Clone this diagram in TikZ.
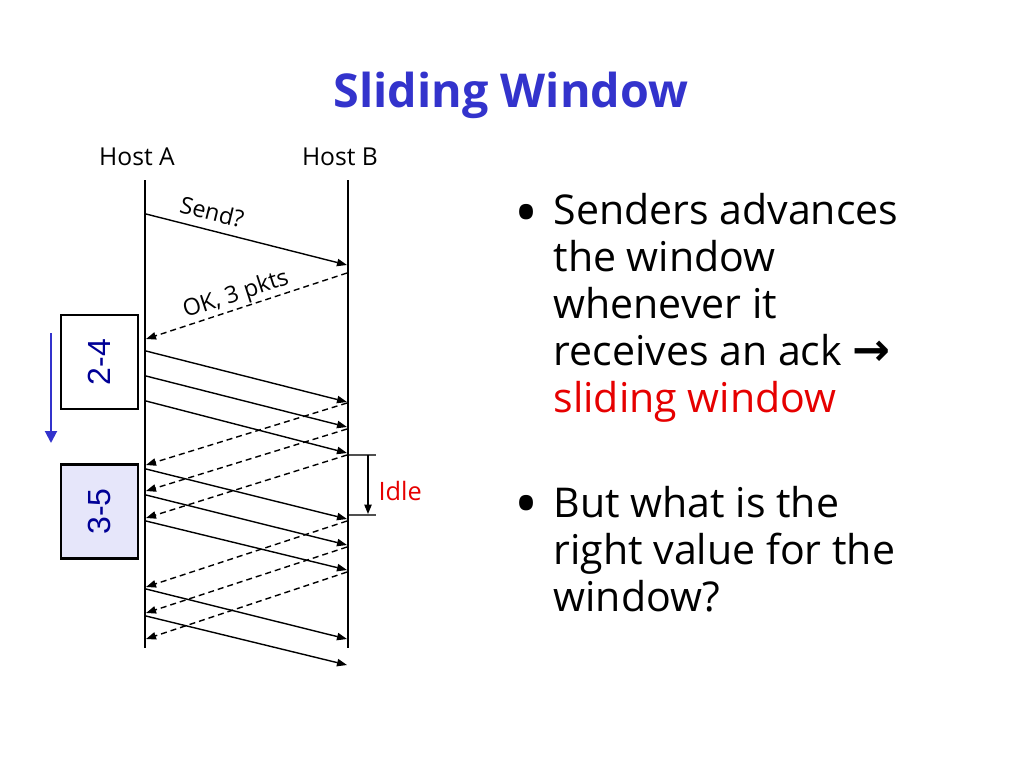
\documentclass[tikz,border=0pt]{standalone}
\usepackage{fontspec}
\setmainfont{Open Sans}
\newfontfamily\arrowfont{DejaVu Sans}
\newfontfamily\boxfont{Liberation Sans}
\usetikzlibrary{arrows.meta}

\definecolor{titleblue}{RGB}{51,51,204}
\definecolor{boxtext}{RGB}{0,0,150}
\definecolor{boxfill}{RGB}{230,230,250}
\definecolor{slidered}{RGB}{230,0,0}
\definecolor{idlegray}{RGB}{80,80,80}

\tikzset{every picture/.style={line width=0.75pt}}
\tikzset{
  lifeline/.style={line width=2.2pt},
  msg/.style={line width=1.05pt,-{Triangle[length=7.5pt,width=5.5pt]}},
  ack/.style={msg,dash pattern=on 4.5pt off 3pt},
  winbox/.style={draw,line width=2pt,minimum width=57.75pt,minimum height=70.5pt,inner sep=0pt},
  bulletline/.style={anchor=base west,inner sep=0pt,font=\fontsize{30.8}{35}\selectfont},
  bulletdot/.style={inner sep=0pt,font=\fontsize{48}{48}\selectfont}
}

\begin{document}
\begin{tikzpicture}[x=0.75pt,y=0.75pt,yscale=-1,xscale=1]
\useasboundingbox (0,0) rectangle (1024,768);

% Text Node
\node [font=\fontsize{35}{40}\selectfont\bfseries,color=titleblue,anchor=base] (title) at (511,107) {Sliding Window};
% Text Node
\node [font=\fontsize{18.5}{20}\selectfont] (hostA) at (137,157) {Host A};
% Text Node
\node [font=\fontsize{18.5}{20}\selectfont] (hostB) at (340,157) {Host B};

%Straight Lines [lifelines]
\coordinate (topA) at (145,180); \coordinate (botA) at (145,648);
\coordinate (topB) at (348,180); \coordinate (botB) at (348,648);
\draw [lifeline] (topA) -- (botA);
\draw [lifeline] (topB) -- (botB);

%Straight Lines [Send?]
\coordinate (s0A) at (146,214); \coordinate (s0B) at (347,265);
\draw [msg] (s0A) -- (s0B);
%Straight Lines [OK]
\coordinate (d0B) at (347,273); \coordinate (d0A) at (146,339);
\draw [ack] (d0B) -- (d0A);

%Straight Lines [first window]
\coordinate (s1A) at (146,351); \coordinate (s1B) at (347,402);
\draw [msg] (s1A) -- (s1B);
\coordinate (s2A) at (146,376); \coordinate (s2B) at (347,427);
\draw [msg] (s2A) -- (s2B);
\coordinate (s3A) at (146,401); \coordinate (s3B) at (347,453);
\draw [msg] (s3A) -- (s3B);
\coordinate (d1B) at (347,403); \coordinate (d1A) at (146,465);
\draw [ack] (d1B) -- (d1A);
\coordinate (d2B) at (347,429); \coordinate (d2A) at (146,491);
\draw [ack] (d2B) -- (d2A);
\coordinate (d3B) at (347,455); \coordinate (d3A) at (146,518);
\draw [ack] (d3B) -- (d3A);

%Straight Lines [second window]
\coordinate (s4A) at (146,469); \coordinate (s4B) at (347,519);
\draw [msg] (s4A) -- (s4B);
\coordinate (s5A) at (146,495); \coordinate (s5B) at (347,545);
\draw [msg] (s5A) -- (s5B);
\coordinate (s6A) at (146,521); \coordinate (s6B) at (347,570);
\draw [msg] (s6A) -- (s6B);
\coordinate (d4B) at (347,521); \coordinate (d4A) at (146,587);
\draw [ack] (d4B) -- (d4A);
\coordinate (d5B) at (347,547); \coordinate (d5A) at (146,613);
\draw [ack] (d5B) -- (d5A);
\coordinate (d6B) at (347,572); \coordinate (d6A) at (146,639);
\draw [ack] (d6B) -- (d6A);
\coordinate (s7A) at (146,589); \coordinate (s7B) at (347,639);
\draw [msg] (s7A) -- (s7B);
\coordinate (s8A) at (146,616); \coordinate (s8B) at (347,665);
\draw [msg] (s8A) -- (s8B);

% Text Node
\node [font=\fontsize{17.5}{20}\selectfont,rotate=-14,inner sep=0pt] (sendlbl) at (212,212) {Send?};
% Text Node
\node [font=\fontsize{17.5}{20}\selectfont,rotate=18,inner sep=0pt] (oklbl) at (236,295) {OK, 3 pkts};

%Idle bracket
\coordinate (idleT) at (376,455); \coordinate (idleTB) at (349,455);
\coordinate (idleBt) at (376,515); \coordinate (idleBB) at (349,515);
\draw [color=idlegray,line width=0.9pt] (idleTB) -- (idleT);
\draw [color=idlegray,line width=0.9pt] (idleBB) -- (idleBt);
\coordinate (idleA) at (368,455); \coordinate (idleZ) at (368,514);
\draw [line width=0.9pt,-{Triangle[length=7pt,width=5.5pt]}] (idleA) -- (idleZ);
% Text Node
\node [font=\fontsize{19}{20}\selectfont,color=slidered,anchor=west,inner sep=0pt] (idle) at (378,491) {Idle};

%Shape: Rectangle [windows]
\node [winbox,fill=white] (win24) at (99.5,362) {\fontsize{24}{24}\boxfont\color{boxtext}\rotatebox{90}{2-4}};
\node [winbox,fill=boxfill] (win35) at (99.5,511.5) {\fontsize{24}{24}\boxfont\color{boxtext}\rotatebox{90}{3-5}};

%Straight Lines [slide]
\coordinate (slideT) at (51,333); \coordinate (slideB) at (51,443);
\draw [color=titleblue,line width=1.5pt,-{Triangle[length=9pt,width=9pt]}] (slideT) -- (slideB);

% Bullets
\node [bulletdot] (dot1) at (527,220) {\textbullet};
\node [bulletline] (b1l1) at (553,224) {Senders advances};
\node [bulletline] (b1l2) at (553,271) {the window};
\node [bulletline] (b1l3) at (553,318) {whenever it};
\node [bulletline] (b1l4) at (553,365) {receives an ack {\arrowfont\fontsize{34}{35}\selectfont\bfseries →}};
\node [bulletline,color=slidered] (b1l5) at (553,412) {sliding window};

\node [bulletdot] (dot2) at (527,511) {\textbullet};
\node [bulletline] (b2l1) at (553,517) {But what is the};
\node [bulletline] (b2l2) at (553,564) {right value for the};
\node [bulletline] (b2l3) at (553,611) {window?};

\end{tikzpicture}
\end{document}
